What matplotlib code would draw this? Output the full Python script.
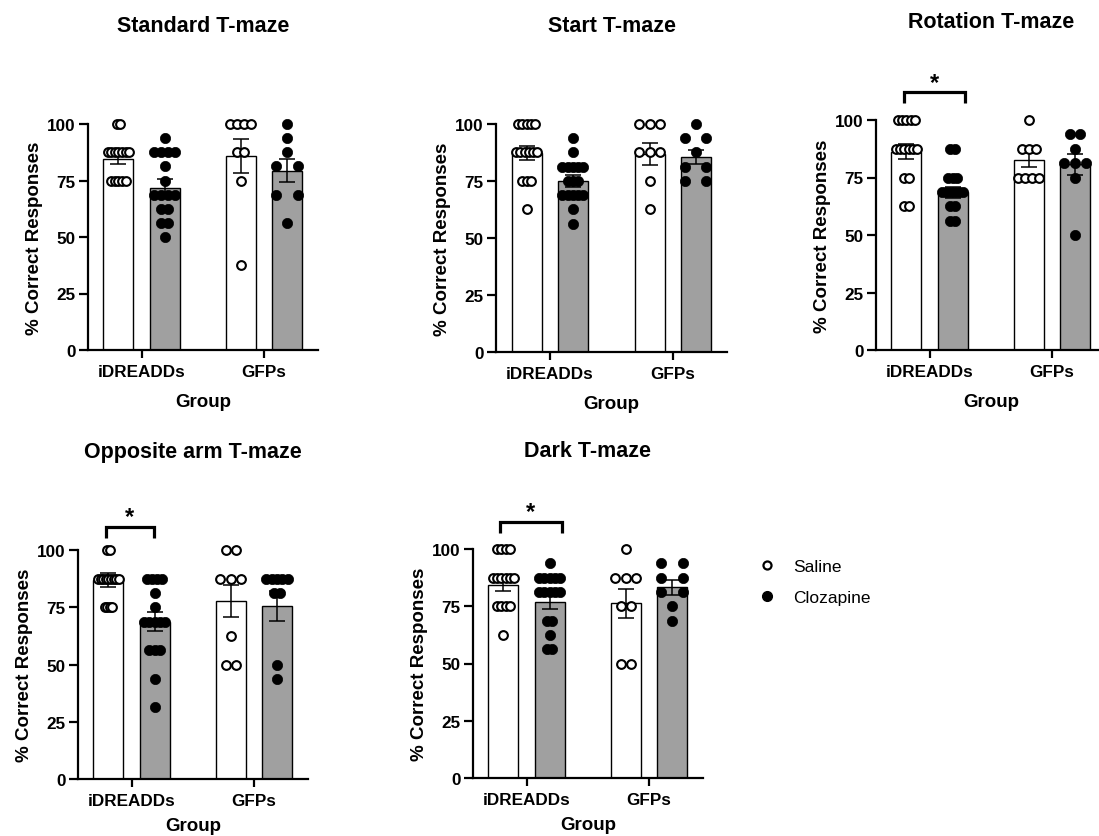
import numpy as np
import matplotlib
matplotlib.use("Agg")
import matplotlib.pyplot as plt
from matplotlib.lines import Line2D

plt.rcParams['font.family'] = ['Liberation Sans', 'DejaVu Sans']

W, H = 1099, 837

# ---------------- data ----------------
groups = ['iDREADDs', 'GFPs']
treatments = ['Saline', 'Clozapine']
titles = ['Standard T-maze', 'Start T-maze', 'Rotation T-maze',
          'Opposite arm T-maze', 'Dark T-maze']

# individual animals (% correct), order: iDREADDs-Saline, iDREADDs-Clozapine, GFPs-Saline, GFPs-Clozapine
standard_points = [
    [100, 100, 87.5, 87.5, 87.5, 87.5, 87.5, 87.5, 87.5, 75, 75, 75, 75, 75],
    [93.75, 87.5, 87.5, 87.5, 87.5, 81.25, 75, 68.75, 68.75, 68.75, 68.75, 62.5, 62.5, 56.25, 56.25, 50],
    [100, 100, 100, 100, 87.5, 87.5, 75, 37.5],
    [100, 93.75, 87.5, 81.25, 81.25, 68.75, 68.75, 56.25],
]
standard_mean = [84.6, 71.8, 85.7, 79.4]
standard_sem = [2.3, 3.8, 7.6, 5.0]

start_points = [
    [100, 100, 100, 100, 100, 87.5, 87.5, 87.5, 87.5, 87.5, 87.5, 75, 75, 75, 62.5],
    [93.75, 87.5, 81.25, 81.25, 81.25, 81.25, 81.25, 75, 75, 75, 68.75, 68.75, 68.75, 68.75, 68.75, 62.5, 56.25],
    [100, 100, 100, 87.5, 87.5, 87.5, 75, 62.5],
    [100, 93.75, 93.75, 87.5, 81.25, 81.25, 75, 75],
]
start_mean = [87.4, 75.0, 87.0, 85.6]
start_sem = [3.0, 2.5, 4.8, 3.0]

rotation_points = [
    [100, 100, 100, 100, 100, 87.5, 87.5, 87.5, 87.5, 87.5, 87.5, 75, 75, 62.5, 62.5],
    [87.5, 87.5, 75, 75, 75, 68.75, 68.75, 68.75, 68.75, 68.75, 68.75, 62.5, 62.5, 56.25, 56.25],
    [100, 87.5, 87.5, 87.5, 75, 75, 75, 75],
    [93.75, 93.75, 87.5, 81.25, 81.25, 81.25, 75, 50],
]
rotation_mean = [86.3, 68.5, 82.7, 80.8]
rotation_sem = [3.3, 2.5, 3.1, 4.5]

opposite_points = [
    [100, 100, 87.5, 87.5, 87.5, 87.5, 87.5, 87.5, 87.5, 87.5, 87.5, 75, 75, 75, 75],
    [87.5, 87.5, 87.5, 87.5, 81.25, 75, 68.75, 68.75, 68.75, 68.75, 68.75, 56.25, 56.25, 56.25, 43.75, 31.25],
    [100, 100, 87.5, 87.5, 87.5, 62.5, 50, 50],
    [87.5, 87.5, 87.5, 87.5, 87.5, 81.25, 81.25, 50, 43.75],
]
opposite_mean = [86.9, 68.7, 77.8, 75.6]
opposite_sem = [3.1, 4.2, 7.0, 6.6]

dark_points = [
    [100, 100, 100, 100, 87.5, 87.5, 87.5, 87.5, 87.5, 87.5, 75, 75, 75, 75, 62.5],
    [93.75, 87.5, 87.5, 87.5, 87.5, 87.5, 81.25, 81.25, 81.25, 81.25, 81.25, 68.75, 68.75, 62.5, 56.25, 56.25],
    [100, 87.5, 87.5, 87.5, 75, 75, 50, 50],
    [93.75, 93.75, 87.5, 87.5, 81.25, 81.25, 75, 68.75],
]
dark_mean = [84.4, 77.0, 76.3, 83.3]
dark_sem = [2.7, 3.0, 6.4, 3.2]

panel_points = [standard_points, start_points, rotation_points, opposite_points, dark_points]
panel_mean = [standard_mean, start_mean, rotation_mean, opposite_mean, dark_mean]
panel_sem = [standard_sem, start_sem, rotation_sem, opposite_sem, dark_sem]
significant = [False, False, True, True, True]

# ---------------- layout (pixels) ----------------
axes_px = [(88, 318, 125, 351), (496, 727, 125, 353), (876, 1106, 121, 351),
           (78, 308, 551, 780), (473, 703, 550, 779)]
xlabel_pad = [10.5, 10.5, 10.5, 6.5, 6.5]
bracket_x = [None, None, (-0.21, 0.29), (-0.21, 0.18), (-0.22, 0.29)]
bracket_top = [None, None, 112, 110, 112]

fig = plt.figure(figsize=(W / 100, H / 100), dpi=100)

offset = 0.188
bar_w = 0.245
halfmax = 0.086
sal_color = 'white'
cloz_color = '#a0a0a0'


def swarm_x(vals, center):
    vals = np.asarray(vals, dtype=float)
    uniq, counts = np.unique(vals, return_counts=True)
    kmax = counts.max()
    step = 0 if kmax == 1 else 2 * halfmax / (kmax - 1)
    xs, ys = [], []
    for u, k in zip(uniq, counts):
        offs = (np.arange(k) - (k - 1) / 2) * step
        xs.extend(center + offs)
        ys.extend([u] * k)
    return np.array(xs), np.array(ys)


for p in range(5):
    l, r, t, b = axes_px[p]
    ax = fig.add_axes([l / W, 1 - b / H, (r - l) / W, (b - t) / H])
    pts = panel_points[p]
    means = panel_mean[p]
    sems = panel_sem[p]
    for gi in range(2):
        for ti in range(2):
            idx = gi * 2 + ti
            cx = gi + (-offset if ti == 0 else offset)
            ax.bar(cx, means[idx], width=bar_w,
                   color=sal_color if ti == 0 else cloz_color,
                   edgecolor='black', linewidth=1.0, zorder=2)
            ax.errorbar(cx, means[idx], yerr=sems[idx], fmt='none', ecolor='black',
                        elinewidth=1.1, capsize=6, capthick=1.1, zorder=3, clip_on=False)
            xs, ys = swarm_x(pts[idx], cx)
            if ti == 0:
                ax.scatter(xs, ys, s=6.3 ** 2, facecolors='white', edgecolors='black',
                           linewidths=1.5, zorder=4, clip_on=False)
            else:
                ax.scatter(xs, ys, s=7.4 ** 2, facecolors='black', edgecolors='black',
                           linewidths=0.5, zorder=4, clip_on=False)

    ax.set_xlim(-0.437, 1.441)
    ax.set_ylim(0, 100)
    ax.set_yticks([0, 25, 50, 75, 100])
    ax.set_xticks([0, 1])
    ax.set_xticklabels(groups)
    for s in ['top', 'right']:
        ax.spines[s].set_visible(False)
    for s in ['left', 'bottom']:
        ax.spines[s].set_linewidth(1.6)
    ax.tick_params(axis='y', length=6.5, width=1.6, labelsize=12.3, pad=2.5)
    ax.tick_params(axis='x', length=6, width=1.6, labelsize=12.3, pad=4)
    for lab in ax.get_xticklabels() + ax.get_yticklabels():
        lab.set_fontweight('bold')
    ax.set_ylabel('% Correct Responses', fontsize=13.5, fontweight='bold', labelpad=3)
    ax.set_xlabel('Group', fontsize=13.5, fontweight='bold', labelpad=xlabel_pad[p])
    ax.set_title(titles[p], fontsize=15.5, fontweight='bold', pad=67)

    if significant[p]:
        x0, x1 = bracket_x[p]
        yt = bracket_top[p]
        ax.plot([x0, x0, x1, x1], [yt - 4.8, yt, yt, yt - 4.8], color='black',
                lw=2.3, clip_on=False, solid_capstyle='butt', solid_joinstyle='miter')
        ax.text((x0 + x1) / 2, yt - 0.5, '*', ha='center', va='bottom',
                fontsize=17, fontweight='bold', clip_on=False)

handles = [Line2D([], [], linestyle='none', marker='o', markersize=5.8,
                  markerfacecolor='white', markeredgecolor='black', markeredgewidth=1.6),
           Line2D([], [], linestyle='none', marker='o', markersize=7,
                  markerfacecolor='black', markeredgecolor='black')]
fig.legend(handles, treatments, loc='upper left', bbox_to_anchor=(750 / W, 1 - 553 / H),
           frameon=False, fontsize=12.5, handlelength=1.2, handletextpad=0.9,
           labelspacing=0.9, borderaxespad=0)

fig.savefig('out.png', dpi=100)
